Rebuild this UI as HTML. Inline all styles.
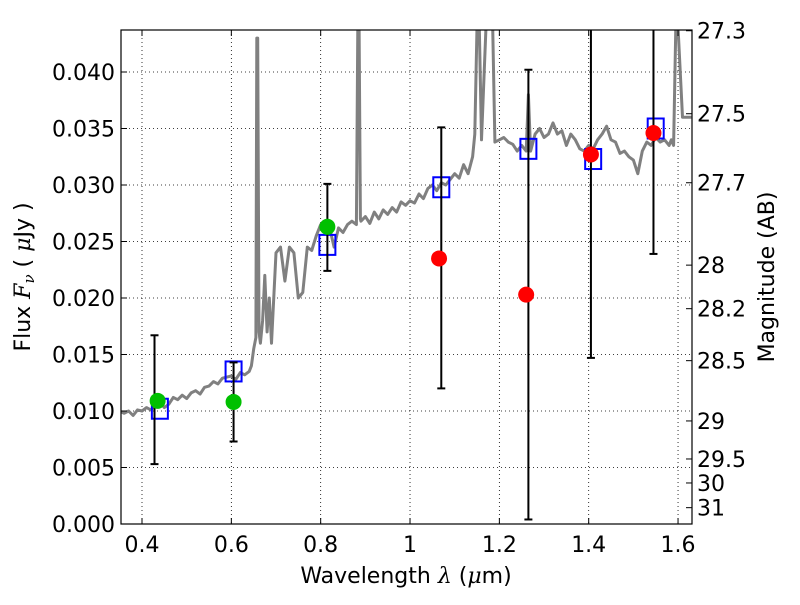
<!DOCTYPE html>
<html><head><meta charset="utf-8"><style>
body{margin:0;background:#fff;}
svg text{font-family:"DejaVu Sans","Liberation Sans",sans-serif;fill:#000;}
</style></head><body>
<svg id="chart" width="800" height="600" xmlns="http://www.w3.org/2000/svg"></svg>
<script>
const specX=[0.35,0.36,0.37,0.38,0.39,0.40,0.41,0.42,0.43,0.44,0.45,0.46,0.47,0.48,0.49,0.50,0.51,0.52,0.53,0.54,0.55,0.56,0.57,0.58,0.59,0.60,0.61,0.62,0.63,0.64,0.645,0.65,0.655,0.657,0.659,0.662,0.665,0.67,0.675,0.68,0.685,0.69,0.70,0.71,0.72,0.73,0.74,0.75,0.76,0.77,0.78,0.79,0.80,0.81,0.82,0.83,0.84,0.85,0.86,0.87,0.88,0.883,0.886,0.889,0.89,0.90,0.91,0.92,0.93,0.94,0.95,0.96,0.97,0.98,0.99,1.0,1.01,1.02,1.03,1.04,1.05,1.06,1.07,1.08,1.09,1.10,1.11,1.12,1.13,1.14,1.145,1.15,1.155,1.16,1.17,1.175,1.18,1.185,1.19,1.20,1.21,1.22,1.23,1.24,1.25,1.26,1.265,1.27,1.28,1.29,1.30,1.31,1.32,1.33,1.34,1.35,1.36,1.37,1.38,1.39,1.40,1.41,1.42,1.43,1.44,1.45,1.46,1.47,1.48,1.49,1.50,1.51,1.52,1.53,1.54,1.55,1.56,1.57,1.58,1.585,1.59,1.595,1.60,1.61,1.63];
const specY=[0.0100,0.0098,0.0100,0.0096,0.0101,0.0100,0.0103,0.0101,0.0106,0.0108,0.0103,0.0106,0.0112,0.0110,0.0114,0.0111,0.0116,0.0118,0.0115,0.0121,0.0122,0.0126,0.0124,0.0129,0.0130,0.0131,0.0128,0.0134,0.0132,0.0135,0.0140,0.0155,0.0165,0.0430,0.0430,0.0170,0.0160,0.0180,0.0220,0.0170,0.0200,0.0160,0.0240,0.0245,0.0215,0.0245,0.0240,0.0200,0.0205,0.0245,0.0242,0.0255,0.0265,0.0268,0.0262,0.0245,0.0262,0.0258,0.0265,0.0268,0.0265,0.0440,0.0440,0.0270,0.0268,0.0272,0.0266,0.0276,0.0270,0.0278,0.0274,0.0280,0.0276,0.0285,0.0282,0.0286,0.0284,0.0292,0.0288,0.0297,0.0300,0.0295,0.0302,0.0300,0.0305,0.0310,0.0306,0.0318,0.0310,0.0325,0.0345,0.0440,0.0440,0.0340,0.0440,0.0440,0.0440,0.0440,0.0338,0.0340,0.0342,0.0338,0.0336,0.0330,0.0335,0.0330,0.0380,0.0330,0.0345,0.0350,0.0342,0.0345,0.0355,0.0345,0.0348,0.0335,0.0345,0.0340,0.0332,0.0330,0.0335,0.0332,0.0340,0.0345,0.0352,0.0340,0.0338,0.0328,0.0330,0.0325,0.0322,0.0310,0.0330,0.0338,0.0335,0.0342,0.0338,0.0340,0.0335,0.0340,0.0335,0.0440,0.0440,0.0360,0.0360,0.0360,0.0360];
const greenX=[0.435,0.605,0.815];
const greenY=[0.0109,0.0108,0.0263];
const redX=[1.065,1.26,1.405,1.545];
const redY=[0.0235,0.0203,0.0327,0.0346];
const sqX=[0.44,0.605,0.815,1.07,1.265,1.41,1.55];
const sqY=[0.0102,0.0135,0.0247,0.0298,0.0332,0.0323,0.0350];
const errX=[0.428,0.605,0.815,1.07,1.265,1.405,1.545];
const errLo=[0.0053,0.0073,0.0224,0.0120,0.0004,0.0147,0.0239];
const errHi=[0.0167,0.0143,0.0301,0.0351,0.0402,0.05,0.05];
const xTicks=[0.4,0.6,0.8,1.0,1.2,1.4,1.6];
const xTickLabels=["0.4","0.6","0.8","1","1.2","1.4","1.6"];
const yTicks=[0,0.005,0.01,0.015,0.02,0.025,0.03,0.035,0.04];
const yTickLabels=["0.000","0.005","0.010","0.015","0.020","0.025","0.030","0.035","0.040"];
const magTicks=[27.3,27.5,27.7,28,28.2,28.5,29,29.5,30,31];
const magLabels=["27.3","27.5","27.7","28","28.2","28.5","29","29.5","30","31"];

const L=121,R=692,T=30,B=524;
const X=v=>142+(v-0.4)*446.7;
const Y=v=>B-v*11300;
const svg=document.getElementById('chart');
const NS='http://www.w3.org/2000/svg';
function mk(tag,attrs,parent){const e=document.createElementNS(NS,tag);for(const k in attrs)e.setAttribute(k,attrs[k]);(parent||svg).appendChild(e);return e;}

const defs=mk('defs',{});
const cp=mk('clipPath',{id:'clip'},defs);
mk('rect',{x:L,y:T,width:R-L,height:B-T},cp);

xTicks.forEach((t)=>{const g=mk('line',{x1:X(t),x2:X(t),y1:T,y2:B,stroke:'#000','stroke-width':0.8,'stroke-dasharray':'1,3'});

});
yTicks.forEach((t)=>{const g=mk('line',{x1:L,x2:R,y1:Y(t),y2:Y(t),stroke:'#000','stroke-width':0.8,'stroke-dasharray':'1,3'});

});

const plot=mk('g',{'clip-path':'url(#clip)'});



let d=specX.map((x,i)=>(i?'L':'M')+X(x).toFixed(1)+','+Y(specY[i]).toFixed(1)).join(' ');
const sp=mk('path',{d:d,fill:'none',stroke:'#808080','stroke-width':3,'stroke-linejoin':'round'},plot);



sqX.forEach((x,i)=>{const s=mk('rect',{x:X(x)-8,y:Y(sqY[i])-10,width:16,height:20,fill:'none',stroke:'#0000ff','stroke-width':2},plot);

});

errX.forEach((x,i)=>{const g=mk('g',{stroke:'#000','stroke-width':2},plot);


mk('line',{x1:X(x),x2:X(x),y1:Y(errLo[i]),y2:Y(errHi[i])},g);
mk('line',{x1:X(x)-4,x2:X(x)+4,y1:Y(errLo[i]),y2:Y(errLo[i])},g);
mk('line',{x1:X(x)-4,x2:X(x)+4,y1:Y(errHi[i]),y2:Y(errHi[i])},g);});

greenX.forEach((x,i)=>{const c=mk('circle',{cx:X(x),cy:Y(greenY[i]),r:8,fill:'#00c000'},plot);

});
redX.forEach((x,i)=>{const c=mk('circle',{cx:X(x),cy:Y(redY[i]),r:8,fill:'#ff0000'},plot);

});

const fr=mk('rect',{x:L,y:T,width:R-L,height:B-T,fill:'none',stroke:'#000','stroke-width':1.2});



const FS=22;
xTicks.forEach((t,i)=>{mk('line',{x1:X(t),x2:X(t),y1:B,y2:B-6,stroke:'#000'});mk('line',{x1:X(t),x2:X(t),y1:T,y2:T+6,stroke:'#000'});
const tx=mk('text',{x:X(t),y:B+28,'text-anchor':'middle','font-size':FS});tx.textContent=xTickLabels[i];

});
yTicks.forEach((t,i)=>{mk('line',{x1:L,x2:L+6,y1:Y(t),y2:Y(t),stroke:'#000'});
const tx=mk('text',{x:L-6,y:Y(t)+8,'text-anchor':'end','font-size':FS});tx.textContent=yTickLabels[i];

});
magTicks.forEach((m,i)=>{const y=Y(Math.pow(10,(23.9-m)/2.5));
mk('line',{x1:R,x2:R-6,y1:y,y2:y,stroke:'#000'});
const tx=mk('text',{x:R+5,y:y+8,'text-anchor':'start','font-size':FS});tx.textContent=magLabels[i];

});

const xl=mk('text',{x:406,y:583,'text-anchor':'middle','font-size':FS});xl.innerHTML='Wavelength  <tspan font-style="italic" font-family="DejaVu Serif">λ</tspan> (<tspan font-style="italic" font-family="DejaVu Serif">μ</tspan>m)';


const yl=mk('text',{x:0,y:0,'text-anchor':'middle','font-size':FS,transform:'translate(30,277) rotate(-90)'});yl.innerHTML='Flux  <tspan font-style="italic" font-family="DejaVu Serif">F<tspan font-size="15" dy="4">ν</tspan></tspan><tspan dy="-4">  ( </tspan><tspan font-style="italic" font-family="DejaVu Serif">μ</tspan>Jy )';


const rl=mk('text',{x:0,y:0,'text-anchor':'middle','font-size':FS,transform:'translate(774,277) rotate(-90)'});rl.textContent='Magnitude (AB)';


</script>
</body></html>
